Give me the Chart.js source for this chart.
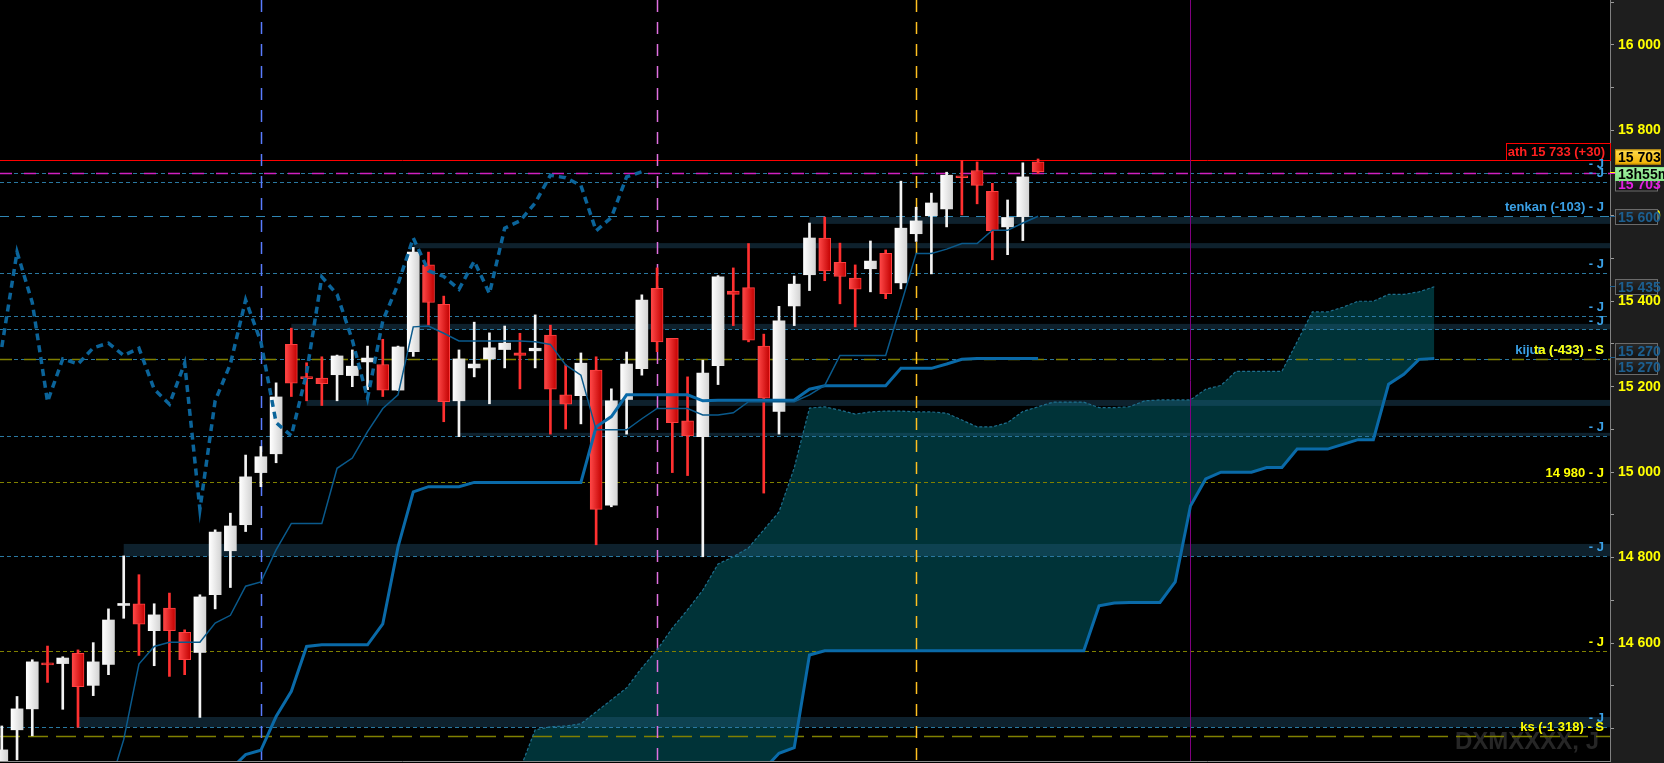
<!DOCTYPE html>
<html>
<head>
<meta charset="utf-8">
<script src="https://cdn.jsdelivr.net/npm/chart.js@4/dist/chart.umd.min.js"></script>
<style>
  html, body { margin: 0; padding: 0; background: #000; overflow: hidden; }
  #wrap { width: 1664px; height: 763px; }
</style>
</head>
<body>
<div id="wrap"><canvas id="chart"></canvas></div>
<script>
// daily candles (index 0 = first visible session)
const opens  = [14308, 14397, 14446, 14552, 14552, 14576, 14501, 14550, 14688, 14692, 14629, 14682, 14625, 14578, 14713, 14816, 14877, 14999, 15043, 15299,
                15223, 15220, 15228, 15226, 15258, 15252, 15192, 15282, 15485, 15393, 15167, 15244, 15265, 15287, 15279, 15284, 15321, 15181, 15179, 15239,
                14923, 15170, 15242, 15430, 15313, 15120, 15083, 15249, 15424, 15432, 15295, 15142, 15389, 15462, 15548, 15491, 15454, 15476, 15512, 15443,
                15558, 15600, 15616, 15693, 15706, 15657, 15574, 15598, 15726];
const highs  = [14406, 14475, 14561, 14593, 14568, 14584, 14601, 14680, 14804, 14760, 14692, 14717, 14631, 14713, 14865, 14904, 15040, 15060, 15209, 15337,
                15256, 15270, 15274, 15286, 15295, 15311, 15295, 15526, 15515, 15412, 15286, 15351, 15326, 15342, 15325, 15368, 15344, 15251, 15279, 15270,
                15195, 15281, 15415, 15478, 15313, 15223, 15262, 15460, 15478, 15535, 15323, 15388, 15459, 15583, 15597, 15536, 15485, 15541, 15520, 15681,
                15620, 15653, 15702, 15729, 15726, 15676, 15637, 15724, 15733];
const lows   = [14290, 14327, 14383, 14508, 14445, 14403, 14477, 14526, 14658, 14571, 14547, 14522, 14526, 14426, 14680, 14730, 14861, 14966, 15022, 15177,
                15167, 15156, 15167, 15200, 15193, 15177, 15191, 15271, 15344, 15118, 15083, 15223, 15160, 15244, 15195, 15244, 15089, 15101, 15113, 14830,
                14919, 15089, 15227, 15282, 14999, 14992, 14802, 15205, 15343, 15305, 14951, 15089, 15343, 15425, 15448, 15394, 15340, 15422, 15406, 15429,
                15540, 15464, 15574, 15602, 15628, 15497, 15509, 15542, 15699];
const closes = [14350, 14446, 14556, 14549, 14565, 14498, 14556, 14654, 14690, 14644, 14666, 14629, 14561, 14708, 14860, 14874, 14989, 15036, 15176, 15208,
                15219, 15207, 15272, 15248, 15267, 15192, 15293, 15515, 15397, 15165, 15265, 15253, 15291, 15302, 15273, 15290, 15194, 15159, 15255, 14913,
                15167, 15253, 15403, 15305, 15116, 15085, 15232, 15457, 15416, 15309, 15173, 15354, 15440, 15548, 15471, 15458, 15428, 15494, 15418, 15571,
                15588, 15630, 15695, 15689, 15671, 15565, 15596, 15691, 15703];

// ichimoku lines
const TENKAN_START = 7;
const tenkan = [14257, 14374, 14551, 14592, 14602, 14602, 14602, 14647, 14665, 14733, 14743, 14818, 14880, 14880, 14880, 15009, 15033, 15095, 15149, 15181,
                15340, 15342, 15325, 15307, 15307, 15307, 15307, 15307, 15305, 15299, 15251, 15227, 15099, 15099, 15099, 15125, 15149, 15149, 15149, 15134,
                15134, 15139, 15165, 15165, 15165, 15165, 15181, 15203, 15273, 15273, 15273, 15273, 15391, 15512, 15512, 15522, 15535, 15535, 15566, 15566,
                15583, 15599];
const KIJUN_START = 15;
const kijun  = [14304, 14339, 14349, 14428, 14487, 14592, 14596, 14596, 14596, 14596, 14645, 14825, 14954, 14966, 14966, 14966, 14976, 14976, 14976, 14976,
                14976, 14976, 14976, 14976, 15106, 15130, 15181, 15181, 15181, 15181, 15181, 15167, 15168, 15168, 15168, 15168, 15168, 15169, 15194, 15202,
                15202, 15202, 15202, 15202, 15243, 15243, 15243, 15253, 15264, 15266, 15266, 15266, 15266, 15266];
const CLOUD_START = 34;
const spanA  = [14304, 14397, 14404, 14406, 14411, 14439, 14467, 14495, 14542, 14584, 14635, 14678, 14724, 14785, 14802, 14823, 14865, 14907, 15010, 15150,
                15153, 15145, 15136, 15141, 15143, 15143, 15141, 15141, 15138, 15122, 15106, 15106, 15116, 15142, 15153, 15164, 15164, 15164, 15151, 15151,
                15153, 15167, 15169, 15169, 15169, 15194, 15203, 15236, 15236, 15236, 15236, 15305, 15375, 15375, 15386, 15400, 15400, 15416, 15416, 15422,
                15434];
const spanB  = [14240, 14240, 14240, 14240, 14240, 14240, 14240, 14240, 14240, 14240, 14240, 14240, 14240, 14240, 14240, 14240, 14304, 14342, 14355, 14572,
                14582, 14582, 14582, 14582, 14582, 14582, 14582, 14582, 14582, 14582, 14582, 14582, 14582, 14582, 14582, 14582, 14582, 14582, 14687, 14694,
                14695, 14695, 14695, 14743, 14921, 14984, 15000, 15000, 15000, 15011, 15011, 15054, 15054, 15054, 15065, 15076, 15076, 15206, 15229, 15264,
                15266];
const CHIKOU_SHIFT = 26;

// horizontal levels and their right-hand notes
const levelValues = [15730, 15700, 15680, 15599, 15467, 15366, 15334, 15265, 15084, 14977, 14803, 14582, 14403, 14383];
const levelTexts  = ['ath 15 733 (+30)', '- J', '- J', 'tenkan (-103) - J', '- J', '- J', '- J', 'kijun (-433) - S', '- J', '14 980 - J', '- J', '- J', '- J', 'ks (-1 318) - S'];
const kijunOverText = 'ta (-433) - S';

// support / resistance zones: start session, top, bottom
const zoneStarts  = [53, 27, 19, 20, 30, 8, 5];
const zoneTops    = [15597, 15536, 15347, 15169, 15092, 14832, 14427];
const zoneBottoms = [15581, 15524, 15334, 15155, 15085, 14803, 14403];

// period separators (session index)
const separators = [17, 43, 60, 78];

// price tags on the axis
const tagTexts  = ['15 703', '15 703', '13h55m', '15 600', '15 435', '15 270', '15 270'];
const tagValues = [15700, 15703, 15703, 15600, 15435, 15270, 15270];

const Y_MIN = 14324, Y_MAX = 16105;
const FONT = '"Liberation Sans", Arial, sans-serif';
const BLUE_TXT = '#3aa0e6', YEL = '#ffff00';

const levelStyles = [
  [{ c: '#ff0000', d: [] }],
  [{ c: '#2a78a0', d: [4, 3] }, { c: '#d020c0', d: [12, 12], w: 1.5 }],
  [{ c: '#2a78a0', d: [4, 3] }],
  [{ c: '#2f86b4', d: [9, 7] }],
  [{ c: '#2a78a0', d: [4, 3] }],
  [{ c: '#2a78a0', d: [4, 3] }],
  [{ c: '#2a78a0', d: [4, 3] }],
  [{ c: '#2a78a0', d: [4, 3] }, { c: '#808000', d: [12, 12], w: 1.5 }],
  [{ c: '#2a78a0', d: [4, 3] }],
  [{ c: '#808000', d: [4, 3] }],
  [{ c: '#2a78a0', d: [4, 3] }],
  [{ c: '#808000', d: [4, 3] }],
  [{ c: '#2a78a0', d: [4, 3] }],
  [{ c: '#808000', d: [20, 8], w: 1.5 }]
];
const levelTextColors = ['#ff2020', BLUE_TXT, BLUE_TXT, BLUE_TXT, BLUE_TXT, BLUE_TXT, BLUE_TXT, BLUE_TXT, BLUE_TXT, YEL, BLUE_TXT, YEL, BLUE_TXT, YEL];
const separatorColors = ['#5a7cff', '#e070e0', '#ffc020', '#800080'];
const tagStyles = [
  { fill: ['#2a2a2a', '#121212'], border: '#707070', text: '#e020e0', dy: 10, w: 43, h: 15, tick: '#e020e0' },
  { fill: ['#ffdc50', '#f0b000'], border: '#c89000', text: '#000000', dy: -16, w: 46, h: 15, tick: '#ffff00' },
  { fill: ['#a4f0a4', '#84e084'], border: '#84e084', text: '#000000', dy: 1, w: 54, h: 14, tick: '#ffff00' },
  { fill: ['#2a2a2a', '#121212'], border: '#6a6a6a', text: '#1c5f90', dy: 0, w: 43, h: 16, tick: '#1c5f90' },
  { fill: ['#2a2a2a', '#121212'], border: '#6a6a6a', text: '#1c5f90', dy: 0, w: 43, h: 16, tick: '#1c5f90' },
  { fill: ['#2a2a2a', '#121212'], border: '#6a6a6a', text: '#1c5f90', dy: -7, w: 43, h: 16, tick: '#1c5f90' },
  { fill: ['#2a2a2a', '#121212'], border: '#6a6a6a', text: '#1c5f90', dy: 9, w: 43, h: 16, tick: '#1c5f90' }
];

const idx = opens.map((_, i) => i);
const isUp = idx.map(i => closes[i] >= opens[i]);

function bodyColor(ctx) {
  if (!ctx.raw || ctx.raw.x === undefined) return '#f2f2f2';
  const i = ctx.raw.x;
  const flat = isUp[i] ? '#f2f2f2' : '#e02020';
  const xs = ctx.chart.scales && ctx.chart.scales.x;
  if (!xs) return flat;
  const px = xs.getPixelForValue(i);
  if (!Number.isFinite(px)) return flat;
  const g = ctx.chart.ctx.createLinearGradient(px - 6, 0, px + 6, 0);
  if (isUp[i]) { g.addColorStop(0, '#ffffff'); g.addColorStop(1, '#d4d4d4'); }
  else { g.addColorStop(0, '#ff4848'); g.addColorStop(1, '#c20000'); }
  return g;
}

function fmt(v) {
  return Math.floor(v / 1000) + ' ' + String(v % 1000).padStart(3, '0');
}

const overlay = {
  id: 'overlay',
  beforeDraw(chart) {
    const { ctx, width, height, chartArea: a } = chart;
    ctx.save();
    ctx.fillStyle = '#000';
    ctx.fillRect(0, 0, width, height);
    ctx.fillStyle = '#1e1e1e';
    ctx.fillRect(a.right, 0, width - a.right, height);
    ctx.restore();
  },
  beforeDatasetsDraw(chart) {
    const { ctx, chartArea: a, scales: { x, y } } = chart;
    ctx.save();
    ctx.beginPath();
    ctx.rect(a.left, a.top, a.width, a.height);
    ctx.clip();

    // watermark
    ctx.font = 'bold 24px ' + FONT;
    ctx.fillStyle = '#262626';
    ctx.textAlign = 'right';
    ctx.textBaseline = 'alphabetic';
    ctx.fillText('DXMXXXX, J', a.right - 11, 749);

    // zones
    ctx.fillStyle = 'rgba(40,95,130,0.35)';
    zoneStarts.forEach((s, k) => {
      const x0 = x.getPixelForValue(s);
      const y0 = y.getPixelForValue(zoneTops[k]);
      const y1 = y.getPixelForValue(zoneBottoms[k]);
      ctx.fillRect(x0, y0, a.right - x0, y1 - y0);
    });

    // levels
    levelValues.forEach((v, k) => {
      const py = Math.round(y.getPixelForValue(v)) + 0.5;
      levelStyles[k].forEach(st => {
        ctx.strokeStyle = st.c;
        ctx.lineWidth = st.w || 1;
        ctx.setLineDash(st.d);
        ctx.beginPath();
        ctx.moveTo(a.left, py);
        ctx.lineTo(a.right, py);
        ctx.stroke();
      });
    });

    // separators
    separators.forEach((s, k) => {
      const px = Math.round(x.getPixelForValue(s)) + 0.5;
      ctx.strokeStyle = separatorColors[k];
      ctx.lineWidth = k === 3 ? 1 : 1.5;
      ctx.setLineDash(k === 3 ? [] : [12, 10]);
      ctx.beginPath();
      ctx.moveTo(px, a.top);
      ctx.lineTo(px, a.bottom);
      ctx.stroke();
    });
    ctx.restore();
  },
  afterDraw(chart) {
    const { ctx, chartArea: a, scales: { y } } = chart;
    ctx.save();

    // bottom border
    ctx.strokeStyle = '#8a8a8a';
    ctx.lineWidth = 1;
    ctx.beginPath();
    ctx.moveTo(0, a.bottom + 0.5);
    ctx.lineTo(a.right, a.bottom + 0.5);
    ctx.stroke();

    // notes on the levels
    ctx.font = 'bold 13px ' + FONT;
    ctx.textAlign = 'right';
    ctx.textBaseline = 'middle';
    levelValues.forEach((v, k) => {
      const py = y.getPixelForValue(v);
      if (k === 0) {
        ctx.strokeStyle = '#ff0000';
        ctx.strokeRect(a.right - 104 + 0.5, Math.round(py) - 17 + 0.5, 104, 17);
        ctx.fillStyle = levelTextColors[k];
        ctx.fillText(levelTexts[k], a.right - 5, py - 8);
        return;
      }
      ctx.fillStyle = levelTextColors[k];
      ctx.fillText(levelTexts[k], a.right - 6, py - 8.5);
      if (k === 7) {
        ctx.fillStyle = YEL;
        ctx.fillText(kijunOverText, a.right - 6, py - 8.5);
      }
    });

    // tags on the price axis
    ctx.font = 'bold 14px ' + FONT;
    ctx.textAlign = 'left';
    tagTexts.forEach((t, k) => {
      const st = tagStyles[k];
      const py = Math.round(y.getPixelForValue(tagValues[k])) + 0.5;
      ctx.strokeStyle = st.tick;
      ctx.beginPath();
      ctx.moveTo(a.right, py);
      ctx.lineTo(a.right + 5, py);
      ctx.stroke();
      const yc = Math.round(py + st.dy);
      const bx = a.right + 5, by = yc - st.h / 2;
      const g = ctx.createLinearGradient(0, by, 0, by + st.h);
      g.addColorStop(0, st.fill[0]);
      g.addColorStop(1, st.fill[1]);
      ctx.fillStyle = g;
      ctx.fillRect(bx, by, st.w, st.h);
      ctx.strokeStyle = st.border;
      ctx.strokeRect(bx + 0.5, by + 0.5, st.w - 1, st.h - 1);
      ctx.fillStyle = st.text;
      ctx.fillText(t, bx + 3, yc + 1);
    });
    ctx.restore();
  }
};

const lineBase = { type: 'line', pointRadius: 0, tension: 0, fill: false, spanGaps: true };

new Chart(document.getElementById('chart'), {
  type: 'bar',
  data: {
    datasets: [
      Object.assign({}, lineBase, {
        label: 'Senkou A',
        data: spanA.map((v, k) => ({ x: CLOUD_START + k, y: v })),
        borderColor: '#1d6f8e', borderWidth: 1.2, borderDash: [3, 2],
        backgroundColor: '#003338', fill: '+1', order: 9
      }),
      Object.assign({}, lineBase, {
        label: 'Senkou B',
        data: spanB.map((v, k) => ({ x: CLOUD_START + k, y: v })),
        borderColor: '#0a6aa8', borderWidth: 3, order: 3
      }),
      {
        label: 'wicks',
        data: idx.map(i => ({ x: i, y: [lows[i], highs[i]] })),
        backgroundColor: idx.map(i => isUp[i] ? '#f4f4f4' : '#ff3030'),
        barThickness: 2, grouped: false, borderWidth: 0, order: 6
      },
      {
        label: 'bodies',
        data: idx.map(i => ({ x: i, y: [opens[i], closes[i]] })),
        backgroundColor: bodyColor,
        borderColor: idx.map(i => isUp[i] ? '#e8e8e8' : '#ff4040'),
        borderWidth: idx.map(i => isUp[i] ? 0 : 1),
        borderSkipped: false, barThickness: 12, minBarLength: 2, grouped: false, order: 5
      },
      Object.assign({}, lineBase, {
        label: 'Kijun',
        data: kijun.map((v, k) => ({ x: KIJUN_START + k, y: v })),
        borderColor: '#0a6aa8', borderWidth: 3, order: 3
      }),
      Object.assign({}, lineBase, {
        label: 'Tenkan',
        data: tenkan.map((v, k) => ({ x: TENKAN_START + k, y: v })),
        borderColor: '#0a5a8c', borderWidth: 1.5, order: 2
      }),
      Object.assign({}, lineBase, {
        label: 'Chikou',
        data: closes.slice(CHIKOU_SHIFT).map((v, j) => ({ x: j, y: v })),
        borderColor: '#0b649a', borderWidth: 3.5, borderDash: [7, 5], order: 1
      })
    ]
  },
  options: {
    responsive: true,
    maintainAspectRatio: false,
    animation: false,
    events: [],
    layout: { padding: { left: 0, right: 0, top: 0, bottom: 2 } },
    plugins: {
      legend: { display: false },
      tooltip: { enabled: false },
      filler: { drawTime: 'beforeDatasetsDraw' }
    },
    scales: {
      x: { type: 'linear', min: -0.118, max: 105.53, display: false, offset: false },
      y: {
        position: 'right',
        min: Y_MIN, max: Y_MAX,
        afterFit: (s) => { s.width = 54; s.paddingTop = 0; s.paddingBottom = 0; },
        border: { color: '#808080' },
        grid: { drawOnChartArea: false, color: '#9a9a9a', tickLength: 4 },
        ticks: {
          stepSize: 100, includeBounds: false, autoSkip: false, padding: 4,
          color: YEL, font: { family: FONT, size: 14, weight: 'bold' },
          callback: (v) => (v % 200 === 0 && v >= 14600 ? fmt(v) : '')
        }
      }
    }
  },
  plugins: [overlay]
});
</script>
</body>
</html>
